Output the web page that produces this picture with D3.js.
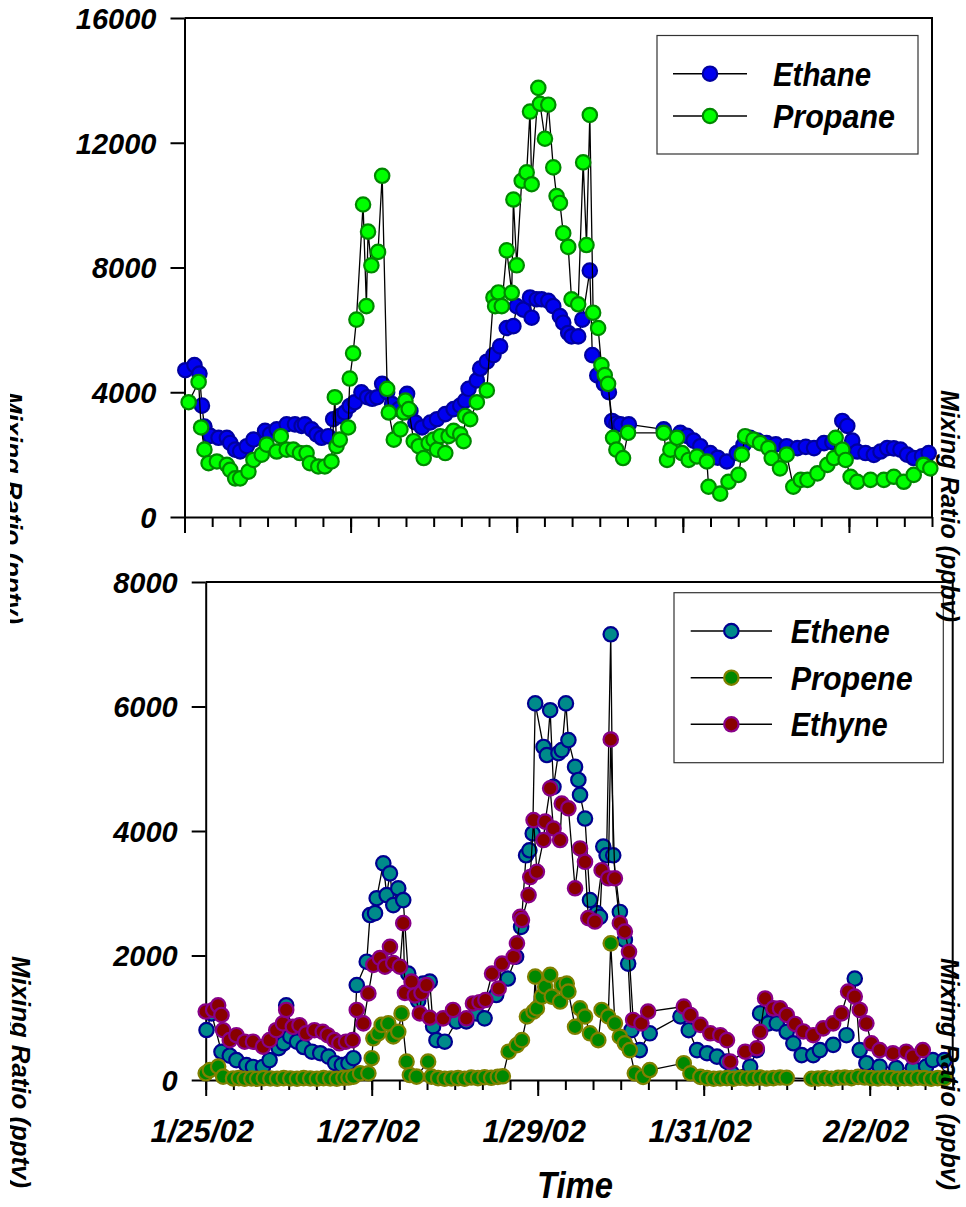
<!DOCTYPE html>
<html>
<head>
<meta charset="utf-8">
<script src="https://cdn.jsdelivr.net/npm/d3@7"></script>
<style>
  body { margin: 0; background: #fff; }
  svg { display: block; font-family: "Liberation Sans", Arial, sans-serif; font-weight: bold; font-style: italic; }
</style>
</head>
<body>
<svg width="966" height="1207"></svg>
<script>
// time axis: days counted from 1/25/02 00:00
const startDate = new Date(2002, 0, 25);
const endDate = new Date(2002, 1, 3);
const dateLabels = ['1/25/02', '1/27/02', '1/29/02', '1/31/02', '2/2/02'];
const labelDays = [0, 2, 4, 6, 8];
const topTicks = [0, 4000, 8000, 12000, 16000];
const bottomTicks = [0, 2000, 4000, 6000, 8000];

const ethaneDays = [0.01, 0.12, 0.18, 0.21, 0.24, 0.31, 0.41, 0.51, 0.55, 0.61, 0.67, 0.75, 0.83, 0.97, 1.03, 1.11, 1.23, 1.33, 1.41, 1.45,
  1.53, 1.59, 1.65, 1.73, 1.79, 1.87, 1.93, 1.99, 2.05, 2.13, 2.20, 2.26, 2.32, 2.38, 2.44, 2.50, 2.58, 2.68, 2.72, 2.78,
  2.86, 2.96, 3.04, 3.14, 3.24, 3.32, 3.38, 3.42, 3.52, 3.56, 3.64, 3.72, 3.80, 3.88, 3.96, 4.00, 4.08, 4.16, 4.18, 4.24,
  4.30, 4.38, 4.44, 4.52, 4.56, 4.62, 4.66, 4.74, 4.79, 4.88, 4.91, 4.97, 5.05, 5.11, 5.15, 5.20, 5.25, 5.35, 5.77, 5.97,
  6.05, 6.13, 6.21, 6.33, 6.42, 6.53, 6.65, 6.73, 6.81, 6.90, 7.01, 7.12, 7.25, 7.38, 7.48, 7.58, 7.70, 7.80, 7.92, 7.98,
  8.04, 8.10, 8.20, 8.30, 8.38, 8.46, 8.54, 8.62, 8.70, 8.78, 8.88, 8.96];
const ethaneValues = [4706, 4870, 4600, 3570, 2900, 2600, 2540, 2540, 2375, 2160, 2105, 2270, 2485, 2760, 2650, 2810, 2970, 2970, 2920, 2970,
  2810, 2650, 2540, 2590, 3135, 3240, 3350, 3560, 3680, 4000, 3840, 3790, 3840, 4270, 4000, 3620, 3460, 3950, 3400, 3030,
  2870, 3030, 3135, 3300, 3460, 3570, 3730, 4110, 4380, 4760, 4980, 5190, 5470, 6060, 6120, 6760, 6650, 7040, 6390, 6980,
  6980, 6930, 6760, 6440, 6230, 5900, 5790, 5790, 6330, 7900, 5190, 4540, 4270, 4000, 3080, 3000, 2970, 2970, 2810, 2700,
  2600, 2450, 2270, 2050, 1900, 1780, 2050, 2310, 2540, 2450, 2370, 2330, 2270, 2210, 2250, 2210, 2370, 2400, 3080, 2920,
  2450, 2100, 2050, 1990, 2100, 2210, 2200, 2160, 2000, 1890, 1950, 2050];

const propaneDays = [0.05, 0.17, 0.20, 0.24, 0.29, 0.39, 0.51, 0.55, 0.61, 0.67, 0.77, 0.83, 0.93, 0.99, 1.11, 1.16, 1.23, 1.31, 1.39, 1.47,
  1.51, 1.61, 1.69, 1.77, 1.81, 1.83, 1.87, 1.97, 1.99, 2.03, 2.07, 2.15, 2.19, 2.21, 2.25, 2.33, 2.38, 2.44, 2.46, 2.52,
  2.60, 2.64, 2.66, 2.70, 2.76, 2.82, 2.88, 2.94, 3.00, 3.04, 3.08, 3.14, 3.18, 3.24, 3.32, 3.36, 3.38, 3.44, 3.52, 3.64,
  3.72, 3.74, 3.78, 3.82, 3.88, 3.94, 3.96, 4.00, 4.06, 4.12, 4.16, 4.18, 4.26, 4.28, 4.34, 4.38, 4.44, 4.48, 4.52, 4.56,
  4.62, 4.66, 4.74, 4.80, 4.84, 4.88, 4.92, 4.98, 5.02, 5.06, 5.10, 5.16, 5.20, 5.28, 5.34, 5.77, 5.81, 5.85, 5.93, 5.99,
  6.07, 6.17, 6.29, 6.31, 6.45, 6.55, 6.67, 6.71, 6.75, 6.85, 6.93, 7.03, 7.07, 7.17, 7.25, 7.33, 7.42, 7.50, 7.62, 7.74,
  7.82, 7.84, 7.92, 7.96, 8.02, 8.10, 8.26, 8.42, 8.54, 8.66, 8.78, 8.90, 8.98];
const propaneValues = [3680, 4330, 2870, 2160, 1725, 1780, 1670, 1510, 1240, 1240, 1455, 1830, 2000, 2320, 2100, 2590, 2160, 2160, 2050, 2050,
  1725, 1620, 1620, 1780, 3840, 2270, 2480, 2870, 4440, 5250, 6330, 10020, 6760, 9150, 8070, 8500, 10940, 4110, 3350, 2480,
  2810, 3350, 3730, 3460, 2430, 2270, 1890, 2370, 2480, 2160, 2590, 2050, 2590, 2760, 2650, 2430, 3240, 3135, 3680, 4060,
  7040, 6760, 7200, 6760, 8550, 7190, 10180, 8070, 10780, 11050, 13000, 10670, 13760, 13250, 12130, 13220, 11210, 10290, 10070, 9100,
  8660, 6980, 6820, 11370, 8720, 12890, 6550, 6060, 4870, 4550, 4270, 2540, 2160, 1890, 2700, 2700, 1830, 2160, 2540, 2050,
  1830, 1940, 1780, 970, 750, 1130, 1350, 2000, 2590, 2480, 2370, 2210, 1890, 1560, 2000, 970, 1190, 1190, 1400, 1670,
  1890, 2540, 2160, 1830, 1290, 1130, 1190, 1190, 1290, 1130, 1350, 1670, 1560];

const etheneDays = [0.01, 0.07, 0.19, 0.29, 0.37, 0.49, 0.57, 0.69, 0.77, 0.88, 0.94, 0.97, 1.02, 1.10, 1.18, 1.28, 1.38, 1.48, 1.56, 1.64,
  1.72, 1.78, 1.82, 1.94, 1.98, 2.04, 2.06, 2.14, 2.18, 2.22, 2.26, 2.32, 2.38, 2.44, 2.50, 2.56, 2.62, 2.70, 2.74, 2.78,
  2.88, 3.02, 3.14, 3.26, 3.36, 3.50, 3.64, 3.74, 3.80, 3.86, 3.90, 3.94, 3.97, 4.07, 4.11, 4.15, 4.19, 4.25, 4.29, 4.34,
  4.37, 4.45, 4.49, 4.51, 4.57, 4.63, 4.71, 4.75, 4.79, 4.83, 4.88, 4.91, 4.99, 5.05, 5.09, 5.13, 5.23, 5.35, 5.72, 5.82,
  5.92, 6.04, 6.16, 6.28, 6.34, 6.56, 6.64, 6.68, 6.78, 6.88, 7.00, 7.08, 7.18, 7.32, 7.40, 7.56, 7.72, 7.82, 7.88, 7.96,
  8.12, 8.32, 8.52, 8.68, 8.76, 8.90];
const etheneValues = [803, 1070, 453, 390, 320, 240, 210, 210, 320, 510, 590, 1200, 700, 615, 530, 455, 430, 375, 270, 240,
  270, 350, 1525, 1900, 2650, 2680, 2920, 3480, 2970, 3320, 2810, 3080, 2890, 1710, 1550, 1270, 1550, 1580, 860, 640,
  615, 940, 940, 1070, 990, 1365, 1630, 1980, 2460, 3610, 3690, 3960, 6050, 5350, 5220, 5940, 4710, 5250, 5300, 6050,
  5460, 5030, 4820, 4580, 4200, 2890, 2680, 2620, 3750, 3610, 7160, 3610, 2700, 2250, 1870, 800, 480, 750, 1020, 800,
  480, 430, 375, 295, 108, 215, 480, 1070, 910, 910, 775, 590, 400, 400, 480, 565, 720, 1630, 480, 270,
  215, 190, 190, 215, 320, 320];

const propeneDays = [0.00, 0.05, 0.15, 0.21, 0.33, 0.40, 0.47, 0.55, 0.62, 0.70, 0.78, 0.86, 0.94, 1.02, 1.10, 1.18, 1.26, 1.34, 1.42, 1.50,
  1.58, 1.66, 1.72, 1.78, 1.86, 1.96, 2.00, 2.02, 2.08, 2.12, 2.20, 2.26, 2.32, 2.36, 2.42, 2.46, 2.54, 2.68, 2.72, 2.80,
  2.88, 2.96, 3.04, 3.12, 3.20, 3.28, 3.36, 3.44, 3.52, 3.58, 3.65, 3.75, 3.81, 3.87, 3.95, 3.97, 3.99, 4.05, 4.09, 4.15,
  4.17, 4.27, 4.29, 4.35, 4.37, 4.45, 4.51, 4.57, 4.63, 4.73, 4.77, 4.85, 4.88, 4.93, 4.99, 5.05, 5.11, 5.17, 5.27, 5.35,
  5.76, 5.84, 5.96, 6.04, 6.12, 6.20, 6.28, 6.36, 6.44, 6.52, 6.60, 6.68, 6.76, 6.84, 6.92, 7.00, 7.30, 7.38, 7.46, 7.54,
  7.62, 7.70, 7.78, 7.86, 7.94, 8.02, 8.10, 8.18, 8.26, 8.34, 8.42, 8.50, 8.58, 8.66, 8.74, 8.82, 8.90];
const propeneValues = [108, 160, 215, 55, 25, 30, 20, 25, 20, 30, 25, 20, 30, 25, 20, 30, 25, 20, 30, 25,
  20, 35, 40, 55, 108, 108, 350, 670, 750, 885, 910, 700, 775, 1070, 295, 80, 55, 295, 55, 30,
  20, 25, 30, 20, 40, 30, 45, 35, 50, 60, 455, 560, 640, 1020, 1100, 1660, 1150, 1340, 1500, 1690,
  1340, 1260, 1525, 1550, 1420, 855, 1150, 1020, 750, 640, 1125, 1020, 2195, 910, 695, 590, 480, 108, 50, 160,
  270, 108, 50, 30, 20, 25, 30, 20, 35, 25, 30, 40, 25, 30, 40, 35, 20, 25, 30, 20,
  35, 40, 30, 50, 40, 30, 25, 35, 30, 20, 30, 25, 35, 30, 20, 30, 25];

const ethyneDays = [0.00, 0.09, 0.15, 0.19, 0.21, 0.29, 0.37, 0.47, 0.57, 0.69, 0.77, 0.85, 0.93, 0.97, 1.05, 1.13, 1.21, 1.31, 1.41, 1.47,
  1.55, 1.61, 1.69, 1.77, 1.82, 1.90, 1.96, 2.02, 2.10, 2.16, 2.22, 2.26, 2.34, 2.38, 2.40, 2.48, 2.52, 2.58, 2.60, 2.66,
  2.70, 2.86, 2.98, 3.14, 3.22, 3.30, 3.37, 3.45, 3.53, 3.57, 3.71, 3.75, 3.79, 3.81, 3.89, 3.91, 3.95, 3.99, 4.07, 4.09,
  4.15, 4.19, 4.27, 4.29, 4.37, 4.45, 4.51, 4.57, 4.61, 4.69, 4.77, 4.85, 4.88, 4.93, 4.99, 5.05, 5.10, 5.15, 5.25, 5.33,
  5.76, 5.84, 5.96, 6.08, 6.20, 6.28, 6.32, 6.50, 6.64, 6.68, 6.74, 6.84, 6.92, 7.00, 7.10, 7.20, 7.32, 7.44, 7.56, 7.66,
  7.74, 7.82, 7.88, 7.96, 8.02, 8.12, 8.28, 8.44, 8.52, 8.64];
const ethyneValues = [1100, 1125, 1200, 1045, 800, 640, 720, 615, 615, 535, 640, 800, 910, 1125, 855, 880, 750, 800, 775, 720,
  640, 590, 615, 640, 1125, 910, 1390, 1850, 1960, 1820, 2140, 1880, 1820, 2520, 1400, 1580, 1360, 1070, 1400, 1525,
  1000, 990, 1125, 990, 1230, 1250, 1285, 1710, 1470, 1870, 1980, 2195, 2620, 2570, 2970, 3260, 4175, 3345, 3855, 4150,
  4685, 4040, 3855, 4440, 4365, 3080, 3720, 3505, 2600, 2545, 3370, 3240, 5470, 3240, 2520, 2385, 2060, 965, 910, 1100,
  1180, 1045, 885, 750, 720, 640, 295, 455, 510, 775, 1310, 1150, 1150, 1045, 900, 780, 720, 830, 910, 1070,
  1420, 1340, 1125, 910, 590, 480, 430, 455, 375, 480];

const dayToDate = d => new Date(startDate.getTime() + d * 86400000);
const zipSeries = (days, values) => days.map((d, i) => ({ date: dayToDate(d), value: values[i] }));

const svg = d3.select('svg');

function drawPanel(p) {
  const x = d3.scaleTime().domain([startDate, endDate]).range([p.left, p.right]);
  const y = d3.scaleLinear().domain([0, p.max]).range([p.bottom, p.top]);
  const g = svg.append('g');

  // minor ticks every 8 hours
  const minor = d3.timeHour.every(8).range(startDate, new Date(endDate.getTime() + 1));
  g.append('g')
    .attr('transform', `translate(0,${p.bottom})`)
    .call(d3.axisBottom(x).tickValues(minor).tickSize(10).tickSizeOuter(0).tickFormat(''));

  // major ticks + date labels
  const major = g.append('g')
    .attr('transform', `translate(0,${p.bottom})`)
    .call(d3.axisBottom(x).tickValues(labelDays.map(dayToDate)).tickSize(16).tickPadding(24)
      .tickFormat((d, i) => p.dateLabels ? dateLabels[i] : ''));
  major.select('.domain').remove();
  major.selectAll('text').attr('x', -4).attr('font-size', 31).attr('font-family', null).attr('fill', '#000');

  const yAxis = g.append('g')
    .attr('transform', `translate(${p.left},0)`)
    .call(d3.axisLeft(y).tickValues(p.yTicks).tickSize(14).tickPadding(14).tickSizeOuter(0).tickFormat(d3.format('d')));
  yAxis.selectAll('text').attr('font-size', 29).attr('font-family', null).attr('fill', '#000').attr('dy', '0.36em');

  g.selectAll('line, path.domain').attr('stroke', '#000').attr('stroke-width', 2);

  // frame on top and right
  g.append('path')
    .attr('d', `M${p.left},${p.top}H${p.right}V${p.bottom}`)
    .attr('fill', 'none').attr('stroke', '#000').attr('stroke-width', 2);

  const line = d3.line().x(d => x(d.date)).y(d => y(d.value));
  p.series.forEach(s => {
    const data = zipSeries(s.days, s.values);
    g.append('path').datum(data)
      .attr('d', line)
      .attr('fill', 'none').attr('stroke', '#000').attr('stroke-width', 1.3);
    g.append('g').selectAll('circle')
      .data(data).enter().append('circle')
      .attr('cx', d => x(d.date)).attr('cy', d => y(d.value))
      .attr('r', 7.2)
      .attr('fill', s.fill).attr('stroke', s.stroke).attr('stroke-width', 2.2);
  });

  // legend
  const L = p.legend;
  const lg = g.append('g');
  lg.append('rect')
    .attr('x', L.x).attr('y', L.y).attr('width', L.w).attr('height', L.h)
    .attr('fill', '#fff').attr('stroke', '#333').attr('stroke-width', 1.2);
  p.series.forEach((s, i) => {
    const yy = L.rows[i];
    lg.append('line').attr('x1', L.lineX[0]).attr('x2', L.lineX[1]).attr('y1', yy).attr('y2', yy)
      .attr('stroke', '#000').attr('stroke-width', 1.5);
    lg.append('circle').attr('cx', (L.lineX[0] + L.lineX[1]) / 2).attr('cy', yy).attr('r', 7.2)
      .attr('fill', s.fill).attr('stroke', s.stroke).attr('stroke-width', 2.2);
    lg.append('text').attr('x', L.textX).attr('y', yy + 12)
      .attr('font-size', 34)
      .attr('textLength', s.labelWidth).attr('lengthAdjust', 'spacingAndGlyphs')
      .text(s.name);
  });
}

drawPanel({
  left: 184.5, right: 932, top: 18, bottom: 517, max: 16000, yTicks: topTicks, dateLabels: false,
  series: [
    { name: 'Ethane', days: ethaneDays, values: ethaneValues, fill: '#0000f0', stroke: '#0000a0', labelWidth: 98 },
    { name: 'Propane', days: propaneDays, values: propaneValues, fill: '#00ff00', stroke: '#008800', labelWidth: 122 }
  ],
  legend: { x: 657, y: 35.5, w: 261, h: 118.5, rows: [73.7, 116], lineX: [673, 747], textX: 773 }
});

drawPanel({
  left: 205.7, right: 952.7, top: 582, bottom: 1080, max: 8000, yTicks: bottomTicks, dateLabels: true,
  series: [
    { name: 'Ethene', days: etheneDays, values: etheneValues, fill: '#008a8a', stroke: '#000090', labelWidth: 99 },
    { name: 'Propene', days: propeneDays, values: propeneValues, fill: '#008800', stroke: '#808000', labelWidth: 122 },
    { name: 'Ethyne', days: ethyneDays, values: ethyneValues, fill: '#880000', stroke: '#880088', labelWidth: 97 }
  ],
  legend: { x: 674, y: 592.7, w: 269.3, h: 170, rows: [631, 677.7, 724.3], lineX: [690.7, 772], textX: 790.7 }
});

// x-axis title
svg.append('text')
  .attr('x', 575).attr('y', 1198)
  .attr('text-anchor', 'middle').attr('font-size', 36)
  .attr('textLength', 76).attr('lengthAdjust', 'spacingAndGlyphs')
  .text('Time');

// side titles (rotated, left ones partly cut off as in the original)
svg.append('clipPath').attr('id', 'leftClip')
  .append('rect').attr('x', 10).attr('y', 0).attr('width', 60).attr('height', 1207);

const sideTitles = [
  { x: 4, y: 508, clip: true, unit: 'pptv' },
  { x: 12, y: 1072, clip: true, unit: 'pptv' },
  { x: 941, y: 506, clip: false, unit: 'ppbv' },
  { x: 941, y: 1074, clip: false, unit: 'ppbv' }
];
sideTitles.forEach(t => {
  const tg = svg.append('g');
  if (t.clip) tg.attr('clip-path', 'url(#leftClip)');
  tg.append('text')
    .attr('transform', `translate(${t.x},${t.y}) rotate(90)`)
    .attr('text-anchor', 'middle').attr('font-size', 26.5)
    .attr('textLength', 232).attr('lengthAdjust', 'spacingAndGlyphs')
    .text(`Mixing Ratio (${t.unit})`);
});
</script>
</body>
</html>
